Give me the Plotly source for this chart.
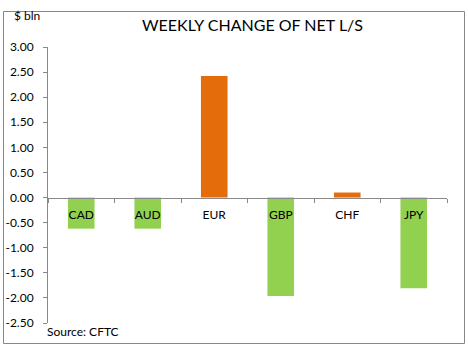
import plotly.graph_objects as go

categories = ["CAD", "AUD", "EUR", "GBP", "CHF", "JPY"]
values = [-0.62, -0.62, 2.42, -1.96, 0.10, -1.81]
tick_vals = [3.0, 2.5, 2.0, 1.5, 1.0, 0.5, 0.0, -0.5, -1.0, -1.5, -2.0, -2.5]
tick_text = ["3.00", "2.50", "2.00", "1.50", "1.00", "0.50", "0.00",
             "-0.50", "-1.00", "-1.50", "-2.00", "-2.50"]

ORANGE = "#E46C0A"
GREEN = "#92D050"
colors = [ORANGE if v >= 0 else GREEN for v in values]

W, H = 468, 349
ml, mr, mt, mb = 48, 21, 47, 26
pw, ph = W - ml - mr, H - mt - mb
ymin, ymax = -2.5, 3.0

def px(x):
    return (x - ml) / pw

def py(y):
    return (H - mb - y) / ph

fig = go.Figure(go.Bar(
    x=categories, y=values, marker=dict(color=colors, line=dict(width=0)),
    width=0.4, hoverinfo="x+y",
))

font_family = "Lato, Carlito, Calibri, sans-serif"
axis_color = "#898989"

fig.update_layout(
    width=W, height=H,
    margin=dict(l=ml, r=mr, t=mt, b=mb, autoexpand=False),
    paper_bgcolor="white", plot_bgcolor="white",
    showlegend=False,
    font=dict(family=font_family, size=12, color="#000000"),
    xaxis=dict(
        anchor="free", position=(0 - ymin) / (ymax - ymin),
        showline=True, linecolor=axis_color, linewidth=1,
        ticks="outside", ticklen=4, tickcolor=axis_color, tickson="boundaries",
        ticklabelstandoff=6, automargin=False,
        showgrid=False, zeroline=False,
        tickfont=dict(size=12, color="#000000"),
        range=[-0.5, 5.5],
    ),
    yaxis=dict(
        range=[ymin, ymax], showline=True, linecolor=axis_color, linewidth=1,
        ticks="outside", ticklen=4, tickcolor=axis_color,
        tickvals=tick_vals, ticktext=tick_text, ticklabelstandoff=7,
        automargin=False,
        showgrid=False, zeroline=False,
        tickfont=dict(size=12, color="#000000"),
    ),
    shapes=[dict(type="rect", xref="paper", yref="paper",
                 x0=px(3.5), x1=px(464.5), y0=py(343.5), y1=py(11.5),
                 line=dict(color="#878787", width=1), layer="below")],
    annotations=[
        dict(text="WEEKLY CHANGE OF NET L/S", xref="paper", yref="paper",
             x=px(252), y=py(24), xanchor="center", yanchor="middle",
             showarrow=False, font=dict(size=16, color="#000000")),
        dict(text="$ bln", xref="paper", yref="paper",
             x=px(12), y=py(16), xanchor="left", yanchor="middle",
             showarrow=False, font=dict(size=12, color="#000000")),
        dict(text="Source: CFTC", xref="paper", yref="paper",
             x=px(45), y=py(331), xanchor="left", yanchor="middle",
             showarrow=False, font=dict(size=12, color="#000000")),
    ],
)

fig.write_html("out.html")
